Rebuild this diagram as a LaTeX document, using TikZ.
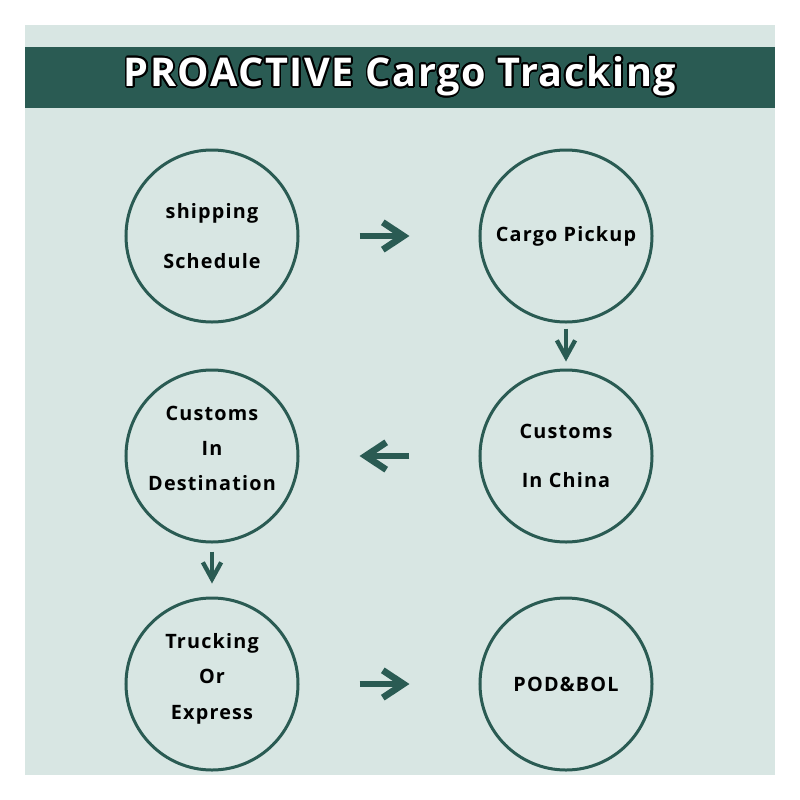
\documentclass[tikz,border=0pt]{standalone}
\usepackage{fontspec}
\setmainfont{Open Sans}
\newfontfamily\stagefont[LetterSpace=6]{Open Sans}
\newfontfamily\titlefont[LetterSpace=4]{Open Sans}
\usepackage[copies]{contour}
\contourlength{1.5pt}
\usetikzlibrary{arrows.meta}
\usetikzlibrary{positioning}
\definecolor{teal}{HTML}{2A5B53}
\definecolor{panel}{HTML}{D8E6E3}
\tikzset{
	stage/.style={circle,draw=teal,line width=0.09cm,minimum size=5.16cm,inner sep=0pt,
		align=center,font=\stagefont\bfseries\fontsize{16.9}{#1}\selectfont},
	stage/.default=42,
	bigarrow/.style={draw=teal,line width=0.165cm,-{Straight Barb[length=0.62cm,width=0.82cm,line width=0.2cm]}},
	smallarrow/.style={draw=teal,line width=0.13cm,-{Straight Barb[length=0.5cm,width=0.55cm,line width=0.13cm]}},
}

\begin{document}
\begin{tikzpicture}[x=0.03cm,y=-0.03cm]
	\fill[white] (0,0) rectangle (800,800);
	\useasboundingbox (0,0) rectangle (800,800);
	\fill[panel] (25,25) rectangle (775,775);
	\fill[teal] (25,47) rectangle (775,108);
	\node[font=\titlefont\bfseries\fontsize{33.8}{40}\selectfont] (title) at (400,77) {\contour{black}{\color{white}PROACTIVE Cargo Tracking}};
	% stages
	\node[stage] (schedule) at (212,236) {shipping\\Schedule};
	\node[stage] (pickup) at (566,236) {Cargo Pickup};
	\node[stage] (china) at (566,456) {Customs\\In China};
	\node[stage=30] (dest) at (212,456) {Customs\\In\\Destination\rule[-13pt]{0pt}{1pt}};
	\node[stage=30] (truck) at (212,684) {Trucking\\Or\\Express\rule[-13pt]{0pt}{1pt}};
	\node[stage] (pod) at (566,684) {POD\&BOL};
	% arrows
	\draw[bigarrow,shorten <=1.8cm,shorten >=2.07cm] (schedule) -- (pickup);
	\draw[smallarrow,shorten <=0.15cm,shorten >=0.21cm] (pickup) -- (china);
	\draw[bigarrow,shorten <=2.07cm,shorten >=1.8cm] (china) -- (dest);
	\draw[smallarrow,shorten <=0.24cm,shorten >=0.39cm] (dest) -- (truck);
	\draw[bigarrow,shorten <=1.8cm,shorten >=2.07cm] (truck) -- (pod);
\end{tikzpicture}
\end{document}
